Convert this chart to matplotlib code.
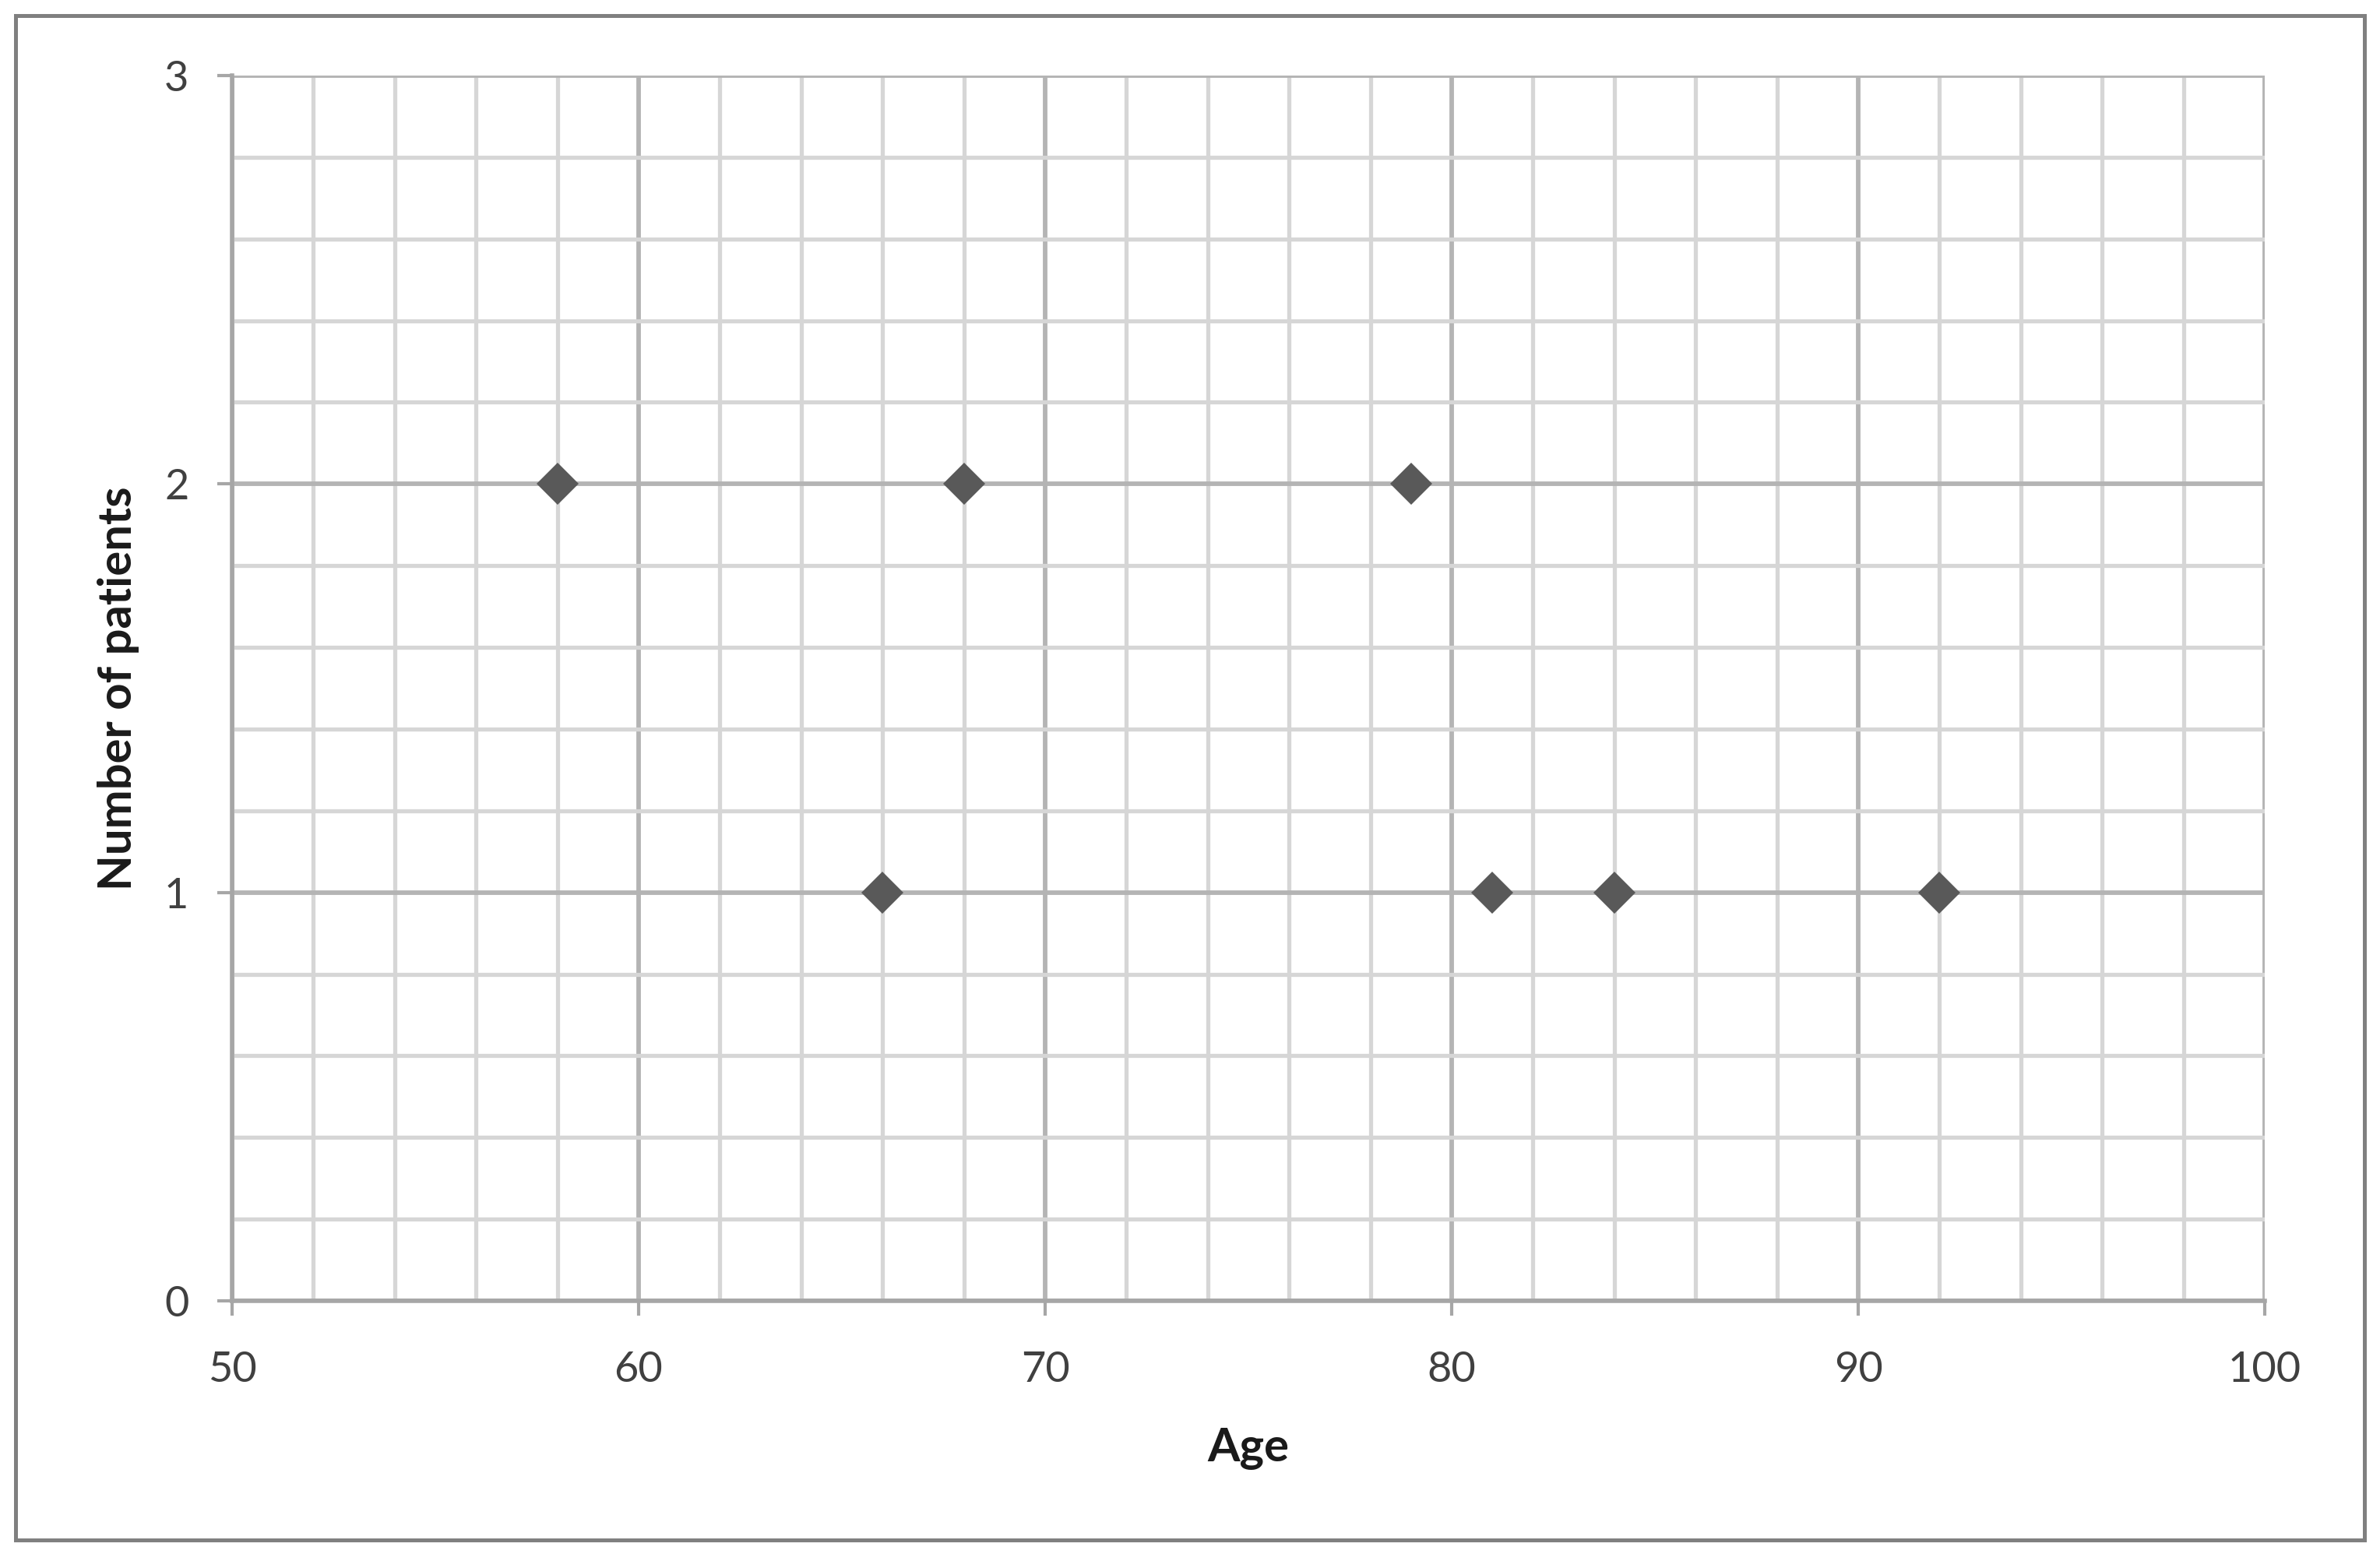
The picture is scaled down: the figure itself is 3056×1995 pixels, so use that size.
import matplotlib
import matplotlib.pyplot as plt
from matplotlib.patches import Rectangle
from matplotlib.ticker import MultipleLocator

matplotlib.use("Agg")

# data
ages = [58, 66, 68, 79, 81, 84, 92]
patients = [2, 1, 2, 2, 1, 1, 1]
x_ticks = [50, 60, 70, 80, 90, 100]
y_ticks = [0, 1, 2, 3]

plt.rcParams["font.family"] = ["Lato", "DejaVu Sans"]

fig = plt.figure(figsize=(30.56, 19.95), dpi=100)
ax = fig.add_axes([0.0975, 0.1629, 0.8541, 0.7885])

major_c = "#b4b4b4"
minor_c = "#d6d6d6"

ax.set_xlim(50, 100)
ax.set_ylim(0, 3)
ax.xaxis.set_major_locator(MultipleLocator(10))
ax.xaxis.set_minor_locator(MultipleLocator(2))
ax.yaxis.set_major_locator(MultipleLocator(1))
ax.yaxis.set_minor_locator(MultipleLocator(0.2))
ax.set_xticks(x_ticks)
ax.set_yticks(y_ticks)

ax.grid(which="minor", color=minor_c, linewidth=3.8, zorder=0)
ax.grid(which="major", color=major_c, linewidth=4.2, zorder=0)
ax.set_axisbelow(True)

for side in ["top", "right"]:
    ax.spines[side].set_visible(False)
for side in ["left", "bottom"]:
    ax.spines[side].set_color("#a6a6a6")
    ax.spines[side].set_linewidth(4)

ax.tick_params(which="major", length=14, width=3, color="#a6a6a6",
               labelsize=39, labelcolor="#404040")
ax.tick_params(axis="y", which="major", pad=26)
ax.tick_params(axis="x", which="major", pad=32)
ax.tick_params(which="minor", length=0)

ax.plot(ages, patients, linestyle="none", marker="D", markersize=27,
        color="#595959", markeredgewidth=0, zorder=3, clip_on=False)

ax.set_xlabel("Age", fontsize=43, fontweight="bold", color="#1a1a1a", labelpad=36)
ax.set_ylabel("Number of patients", fontsize=43, fontweight="bold",
              color="#1a1a1a", labelpad=23)

# outer frame of the picture
fig.patches.append(Rectangle((0.0065, 0.009), 0.987, 0.981, transform=fig.transFigure,
                             fill=False, edgecolor="#808080", linewidth=3.6))

fig.savefig("out.png", dpi=100)
